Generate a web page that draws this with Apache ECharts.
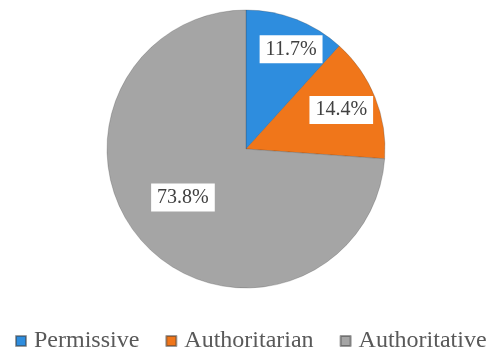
<!DOCTYPE html>
<html>
<head>
<meta charset="utf-8">
<script src="https://cdn.jsdelivr.net/npm/echarts@6/dist/echarts.min.js"></script>
<style>
html,body{margin:0;padding:0;background:#fff;}
#chart{width:492px;height:350px;}
</style>
</head>
<body>
<div id="chart"></div>
<script>
const categories = ['Permissive', 'Authoritarian', 'Authoritative'];
const values = [11.7, 14.4, 73.8];
const colors = ['#2E8DDE', '#F0761A', '#A5A5A5'];
const labelOffsets = [[19, -32], [28, -12], [-10, -1]];

const chart = echarts.init(document.getElementById('chart'));
chart.setOption({
  animation: false,
  legend: {
    data: categories,
    left: 15,
    top: 329,
    padding: 0,
    itemWidth: 10,
    itemHeight: 10,
    itemGap: 26,
    icon: 'rect',
    textStyle: { fontFamily: 'Liberation Serif', fontSize: 24, color: '#595959', padding: [0, 0, 0, 3] }
  },
  series: [{
    type: 'pie',
    center: [246, 149],
    radius: 139,
    startAngle: 90,
    clockwise: true,
    itemStyle: { borderColor: 'rgba(60,60,60,0.5)', borderWidth: 0.5 },
    label: {
      show: true,
      position: 'inside',
      formatter: '{c}%',
      fontFamily: 'Liberation Serif',
      fontSize: 20,
      color: '#404040',
      backgroundColor: '#ffffff',
      padding: [5, 6, 3, 6]
    },
    labelLine: { show: false },
    data: categories.map((name, i) => ({
      name: name,
      value: values[i],
      itemStyle: { color: colors[i] },
      label: { offset: labelOffsets[i] }
    }))
  }]
});
</script>
</body>
</html>
